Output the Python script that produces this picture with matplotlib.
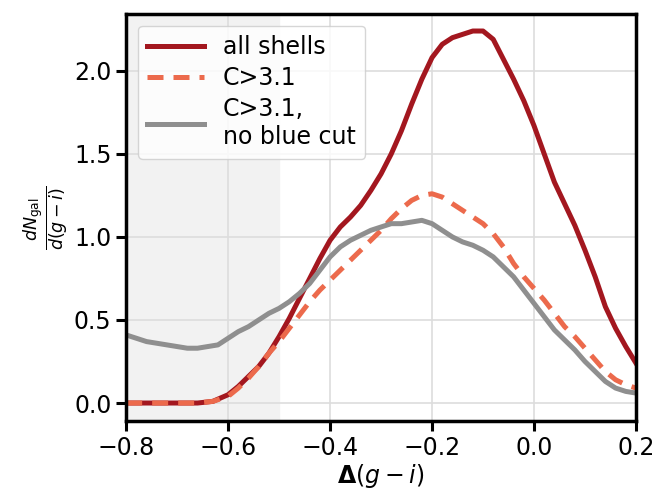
import numpy as np
import matplotlib
matplotlib.use('Agg')
import matplotlib.pyplot as plt

# curves
x_all = [-0.80, -0.70, -0.66, -0.63, -0.60, -0.58, -0.56, -0.54, -0.52, -0.50, -0.48, -0.46,
         -0.44, -0.42, -0.40, -0.38, -0.36, -0.34, -0.32, -0.30, -0.28, -0.26, -0.24, -0.22,
         -0.20, -0.18, -0.16, -0.14, -0.12, -0.10, -0.08, -0.06, -0.04, -0.02, 0.00, 0.02,
         0.04, 0.06, 0.08, 0.10, 0.12, 0.14, 0.16, 0.18, 0.20]
y_all = [0.0, 0.0, 0.0, 0.01, 0.05, 0.10, 0.16, 0.22, 0.30, 0.40, 0.51, 0.63,
         0.75, 0.87, 0.98, 1.06, 1.12, 1.19, 1.28, 1.38, 1.50, 1.64, 1.80, 1.95,
         2.08, 2.16, 2.20, 2.22, 2.24, 2.24, 2.19, 2.07, 1.95, 1.82, 1.67, 1.50,
         1.33, 1.20, 1.07, 0.92, 0.76, 0.58, 0.45, 0.34, 0.24]

x_c31 = [-0.80, -0.66, -0.63, -0.60, -0.58, -0.56, -0.54, -0.52, -0.50, -0.48, -0.46, -0.44,
         -0.42, -0.40, -0.38, -0.36, -0.34, -0.32, -0.30, -0.28, -0.26, -0.24, -0.22, -0.20,
         -0.18, -0.16, -0.14, -0.12, -0.10, -0.08, -0.06, -0.04, -0.02, 0.00, 0.02, 0.04,
         0.06, 0.08, 0.10, 0.12, 0.14, 0.16, 0.18, 0.20]
y_c31 = [0.0, 0.0, 0.01, 0.04, 0.09, 0.15, 0.22, 0.30, 0.37, 0.45, 0.53, 0.61,
         0.68, 0.74, 0.80, 0.86, 0.92, 0.98, 1.04, 1.11, 1.17, 1.22, 1.25, 1.26,
         1.24, 1.20, 1.16, 1.12, 1.08, 1.02, 0.94, 0.84, 0.76, 0.69, 0.62, 0.54,
         0.46, 0.40, 0.33, 0.26, 0.19, 0.14, 0.11, 0.09]

x_nocut = [-0.80, -0.78, -0.76, -0.74, -0.72, -0.70, -0.68, -0.66, -0.64, -0.62, -0.60, -0.58,
           -0.56, -0.54, -0.52, -0.50, -0.48, -0.46, -0.44, -0.42, -0.40, -0.38, -0.36, -0.34,
           -0.32, -0.30, -0.28, -0.26, -0.24, -0.22, -0.20, -0.18, -0.16, -0.14, -0.12, -0.10,
           -0.08, -0.06, -0.04, -0.02, 0.00, 0.02, 0.04, 0.06, 0.08, 0.10, 0.12, 0.14,
           0.16, 0.18, 0.20]
y_nocut = [0.41, 0.39, 0.37, 0.36, 0.35, 0.34, 0.33, 0.33, 0.34, 0.35, 0.39, 0.43,
           0.46, 0.50, 0.54, 0.57, 0.61, 0.66, 0.72, 0.80, 0.88, 0.94, 0.98, 1.01,
           1.04, 1.06, 1.08, 1.08, 1.09, 1.10, 1.08, 1.04, 1.00, 0.97, 0.95, 0.92,
           0.88, 0.82, 0.76, 0.68, 0.60, 0.52, 0.44, 0.38, 0.32, 0.25, 0.19, 0.13,
           0.09, 0.07, 0.06]

labels = ['all shells', 'C>3.1', 'C>3.1,\nno blue cut']

plt.rcParams['font.size'] = 17

fig = plt.figure(figsize=(6.57, 4.97), dpi=100)
ax = fig.add_axes([0.192, 0.153, 0.776, 0.819])

ax.axvspan(-0.8, -0.5, color='#f2f2f2', zorder=0)
ax.plot(x_all, y_all, color='#a3171f', lw=3.6, label=labels[0])
ax.plot(x_c31, y_c31, color='#ec6a4c', lw=3.6, ls=(0, (3.2, 2.0)), label=labels[1])
ax.plot(x_nocut, y_nocut, color='#8f8f8f', lw=3.6, label=labels[2])

ax.set_xlim(-0.8, 0.2)
ax.set_ylim(-0.108, 2.343)
ax.set_xticks([-0.8, -0.6, -0.4, -0.2, 0.0, 0.2])
ax.set_yticks([0.0, 0.5, 1.0, 1.5, 2.0])
ax.grid(color='#dddddd', lw=1.2)
ax.set_axisbelow(True)
for s in ax.spines.values():
    s.set_linewidth(2.5)
ax.tick_params(width=2.2, length=7)

ax.set_xlabel(r'$\mathbf{\Delta}(g-i)$', labelpad=2)
ax.set_ylabel(r'$\frac{dN_{\rm gal}}{d(g-i)}$', fontsize=18, labelpad=2)

ax.legend(loc='upper left', handlelength=2.4, fontsize=17, framealpha=0.8,
          borderaxespad=0.5, labelspacing=0.3)

fig.savefig('out.png', dpi=100)
